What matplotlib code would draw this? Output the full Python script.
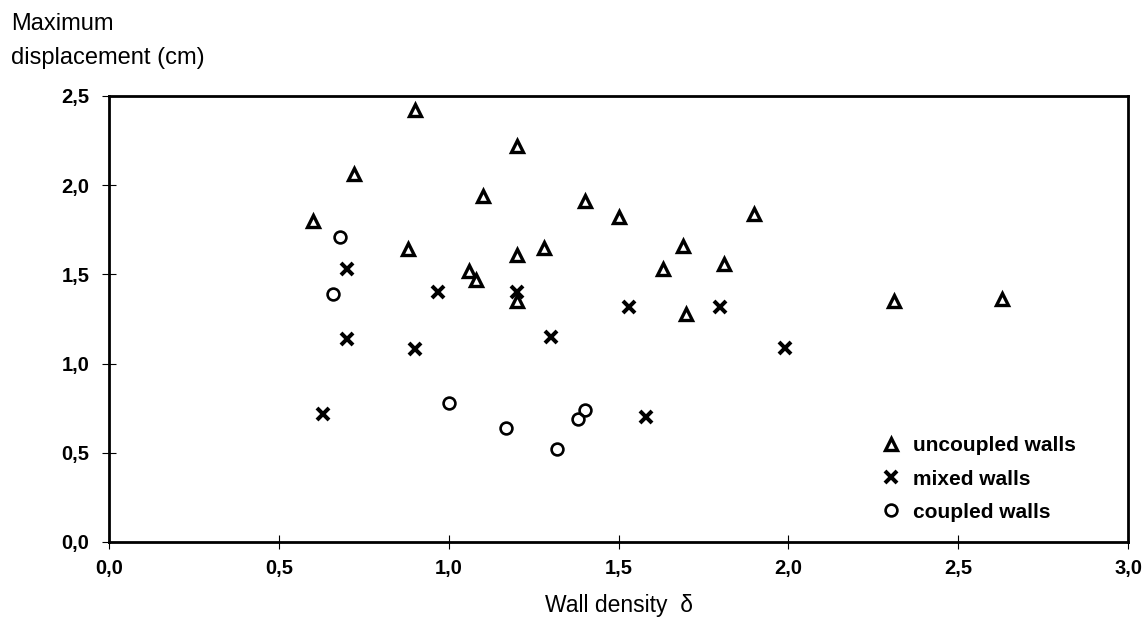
import matplotlib
matplotlib.use("Agg")
import matplotlib.pyplot as plt
from matplotlib.ticker import FuncFormatter, MultipleLocator

plt.rcParams['font.family'] = ['Liberation Sans', 'DejaVu Sans']

# ---- data ----
uncoupled_x = [0.60, 0.72, 0.90, 0.88, 1.06, 1.08, 1.10, 1.20, 1.20, 1.20,
               1.28, 1.40, 1.50, 1.63, 1.69, 1.70, 1.81, 1.90, 2.31, 2.63]
uncoupled_y = [1.80, 2.06, 2.42, 1.64, 1.52, 1.47, 1.94, 2.22, 1.61, 1.35,
               1.65, 1.91, 1.82, 1.53, 1.66, 1.28, 1.56, 1.84, 1.35, 1.36]

mixed_x = [0.70, 0.70, 0.63, 0.97, 0.90, 1.20, 1.30, 1.53, 1.58, 1.80, 1.99]
mixed_y = [1.53, 1.14, 0.72, 1.40, 1.08, 1.40, 1.15, 1.32, 0.70, 1.32, 1.09]

coupled_x = [0.68, 0.66, 1.00, 1.17, 1.32, 1.38, 1.40]
coupled_y = [1.71, 1.39, 0.78, 0.64, 0.52, 0.69, 0.74]

labels = ["uncoupled walls", "mixed walls", "coupled walls"]

# ---- figure ----
W, H = 1147, 625
fig = plt.figure(figsize=(W / 100, H / 100), dpi=100)
left, right, top, bottom = 109, 1128, 96, 542
ax = fig.add_axes([left / W, 1 - bottom / H, (right - left) / W, (bottom - top) / H])

ax.plot(uncoupled_x, uncoupled_y, linestyle='none', marker='^', markersize=9,
        markeredgewidth=2.4, markeredgecolor='black', markerfacecolor='white',
        label=labels[0], zorder=3)
ax.plot(mixed_x, mixed_y, linestyle='none', marker='x', markersize=9,
        markeredgewidth=2.9, color='black', label=labels[1], zorder=4)
ax.plot(coupled_x, coupled_y, linestyle='none', marker='o', markersize=8.5,
        markeredgewidth=1.9, markeredgecolor='black', markerfacecolor='none',
        label=labels[2], zorder=3)

ax.set_xlim(0, 3.0)
ax.set_ylim(0, 2.5)
ax.xaxis.set_major_locator(MultipleLocator(0.5))
ax.yaxis.set_major_locator(MultipleLocator(0.5))
fmt = FuncFormatter(lambda v, p: f"{v:.1f}".replace('.', ','))
ax.xaxis.set_major_formatter(fmt)
ax.yaxis.set_major_formatter(fmt)

for s in ax.spines.values():
    s.set_linewidth(2.0)
    s.set_color('black')

ax.tick_params(axis='both', direction='inout', length=10, width=0.8,
               labelsize=14.5, colors='black')
ax.tick_params(axis='x', pad=7)
ax.tick_params(axis='y', pad=9)
for t in ax.get_xticklabels() + ax.get_yticklabels():
    t.set_fontweight('bold')

ax.set_xlabel("Wall density  \u03b4", fontsize=16.5, labelpad=12)

fig.text(11 / W, 1 - 24 / H, "Maximum", fontsize=17, ha='left', va='center')
fig.text(11 / W, 1 - 58 / H, "displacement (cm)", fontsize=17, ha='left', va='center')

leg = ax.legend(loc='center left', bbox_to_anchor=(0.757, 0.141), frameon=False,
                borderaxespad=0, borderpad=0, handlelength=1.0, handletextpad=0.55,
                labelspacing=0.68, prop={'size': 15, 'weight': 'bold'})

fig.savefig("out.png", dpi=100, facecolor='white')
